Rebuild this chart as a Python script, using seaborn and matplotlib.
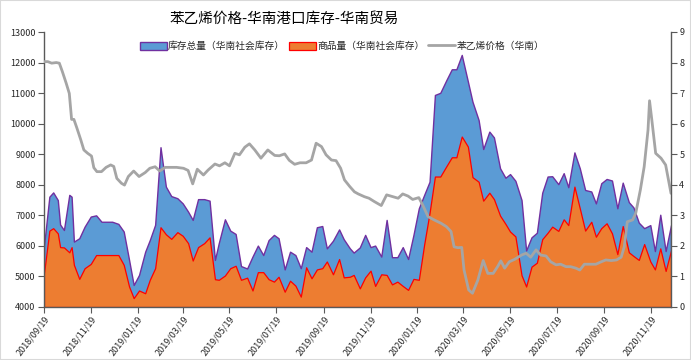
"""Styrene price vs South China port stock (total / goods)."""

import matplotlib

matplotlib.use("Agg")
import matplotlib.pyplot as plt  # noqa: E402
from matplotlib.patches import Rectangle  # noqa: E402
import pandas as pd  # noqa: E402
import seaborn as sns  # noqa: E402

START = "2018-09-19"

# stock series: days after START, total stock, goods stock (tonnes)
stock_day = [0, 7, 12, 18, 21, 26, 33, 36, 39, 46, 53, 61, 68, 75, 82, 89, 97, 104, 111, 117,
             124, 132, 138, 145, 152, 159, 166, 174, 181, 188, 194, 201, 209, 216, 223, 228, 236, 243, 250, 257,
             265, 272, 279, 286, 293, 300, 306, 314, 321, 328, 335, 342, 349, 356, 363, 369, 377, 385, 391, 399,
             404, 412, 419, 426, 432, 440, 447, 454, 461, 468, 475, 482, 489, 496, 503, 510, 517, 525, 532, 538,
             545, 553, 559, 567, 573, 581, 587, 595, 602, 608, 615, 623, 629, 636, 643, 650, 657, 663, 671, 678,
             684, 692, 699, 706, 714, 720, 727, 734, 741, 748, 755, 763, 769, 776, 783, 791, 797, 804, 811, 818]
total_stock = [6000, 7610, 7750, 7500, 6700, 6520, 7670, 7610, 6140, 6250, 6630, 6960, 7000, 6790, 6790, 6790, 6720, 6470, 5540, 4720,
               5050, 5810, 6190, 6690, 9230, 7940, 7630, 7560, 7390, 7120, 6850, 7530, 7530, 7480, 5540, 6090, 6870, 6500, 6390, 5340,
               5260, 5650, 6010, 5700, 6190, 6360, 6250, 5230, 5810, 5700, 5270, 5960, 5810, 6610, 6650, 5920, 6170, 6540, 6220, 5920,
               5780, 5950, 6360, 5960, 6010, 5650, 6850, 5630, 5630, 5960, 5570, 6360, 7230, 7670, 8100, 10940, 11010, 11430, 11780, 11780,
               12250, 11380, 10720, 10120, 9170, 9740, 9550, 8540, 8230, 8350, 8130, 7500, 5850, 6280, 6430, 7740, 8270, 8280, 8020, 8380,
               7920, 9060, 8540, 7830, 7780, 7390, 8050, 8190, 8140, 7230, 8070, 7430, 7260, 6760, 6580, 6680, 5830, 7020, 5830, 6680]
goods_stock = [5100, 6500, 6580, 6410, 5960, 5950, 5790, 5960, 5380, 4920, 5270, 5410, 5700, 5700, 5700, 5700, 5700, 5380, 4670, 4290,
               4540, 4450, 4890, 5270, 6610, 6380, 6230, 6450, 6330, 6090, 5520, 5960, 6090, 6280, 4910, 4890, 5030, 5270, 5350, 4890,
               4960, 4540, 5140, 5140, 4910, 4830, 4990, 4500, 4860, 4700, 4340, 5300, 4940, 5230, 5270, 5490, 5070, 5570, 4970, 4990,
               5050, 4610, 4970, 5190, 4690, 5070, 5050, 4740, 4830, 4690, 4560, 4920, 4890, 6050, 7080, 8270, 8270, 8610, 8900, 8900,
               9580, 9250, 8250, 8100, 7480, 7740, 7530, 6990, 6720, 6470, 6310, 5040, 4670, 5320, 5450, 6220, 6430, 6630, 6490, 6870,
               6680, 7940, 7230, 6500, 6790, 6300, 6580, 6740, 6410, 5730, 6650, 5790, 5670, 5540, 6060, 5490, 5230, 5920, 5180, 5850]

# styrene price (South China), right axis
price_day = [0, 5, 10, 16, 20, 24, 29, 33, 36, 39, 43, 48, 52, 57, 62, 65, 69, 75, 81, 87,
             91, 95, 101, 105, 110, 117, 124, 132, 138, 145, 151, 158, 166, 173, 182, 188, 194, 200, 208, 214,
             223, 229, 236, 242, 249, 255, 262, 268, 275, 283, 292, 301, 307, 314, 320, 327, 334, 342, 349, 355,
             362, 368, 375, 381, 387, 392, 399, 405, 410, 418, 424, 431, 440, 447, 455, 462, 468, 475, 481, 489,
             494, 501, 509, 518, 525, 531, 535, 540, 545, 548, 554, 559, 566, 573, 579, 586, 592, 596, 601, 607,
             614, 623, 629, 635, 642, 648, 655, 661, 668, 674, 681, 687, 694, 699, 705, 714, 720, 727, 733, 740,
             747, 753, 757, 761, 768, 772, 778, 783, 788, 790, 793, 798, 805, 811, 818]
price = [8.03, 8.03, 7.98, 8.00, 7.98, 7.70, 7.32, 6.99, 6.14, 6.14, 5.85, 5.47, 5.14, 5.03, 4.94, 4.56, 4.43, 4.43, 4.57, 4.65,
         4.60, 4.21, 4.05, 3.99, 4.27, 4.45, 4.27, 4.40, 4.54, 4.59, 4.45, 4.57, 4.57, 4.57, 4.54, 4.47, 4.03, 4.51, 4.32, 4.48,
         4.68, 4.62, 4.72, 4.62, 5.03, 4.98, 5.23, 5.34, 5.14, 4.87, 5.14, 4.96, 4.95, 5.01, 4.80, 4.67, 4.72, 4.72, 4.81, 5.36,
         5.25, 4.98, 4.81, 4.79, 4.54, 4.16, 3.94, 3.77, 3.70, 3.61, 3.56, 3.45, 3.32, 3.67, 3.61, 3.56, 3.70, 3.63, 3.52, 3.58,
         3.34, 2.96, 2.85, 2.74, 2.63, 2.47, 1.97, 1.94, 1.95, 1.21, 0.56, 0.45, 0.88, 1.52, 1.10, 1.10, 1.33, 1.51, 1.27, 1.48,
         1.56, 1.70, 1.76, 1.63, 1.87, 1.70, 1.67, 1.48, 1.38, 1.40, 1.32, 1.32, 1.27, 1.21, 1.40, 1.40, 1.40, 1.48, 1.54, 1.52,
         1.54, 1.63, 1.97, 2.79, 2.85, 3.07, 3.83, 4.59, 5.79, 6.75, 6.12, 5.03, 4.87, 4.65, 3.72]

tick_dates = ["2018-09-19", "2018-11-19", "2019-01-19", "2019-03-19", "2019-05-19", "2019-07-19", "2019-09-19",
              "2019-11-19", "2020-01-19", "2020-03-19", "2020-05-19", "2020-07-19", "2020-09-19", "2020-11-19"]

TITLE = "苯乙烯价格-华南港口库存-华南贸易"
LABEL_TOTAL = "库存总量（华南社会库存）"
LABEL_GOODS = "商品量（华南社会库存）"
LABEL_PRICE = "苯乙烯价格（华南）"

BLUE, PURPLE = "#5B9BD5", "#7030A0"
ORANGE, RED = "#ED7D31", "#FF0000"
GRAY = "#A5A5A5"
AXIS = "#595959"

sns.set_theme(style="ticks")
plt.rcParams["font.family"] = ["Noto Sans CJK SC", "DejaVu Sans"]

start = pd.Timestamp(START)
stock = pd.DataFrame({
    "date": start + pd.to_timedelta(stock_day, unit="D"),
    "total": total_stock,
    "goods": goods_stock,
})
px = pd.DataFrame({"date": start + pd.to_timedelta(price_day, unit="D"), "price": price})

fig = plt.figure(figsize=(6.91, 3.60), dpi=100)
ax = fig.add_axes([44 / 691, 1 - 307 / 360, 627 / 691, 275 / 360])

ax.fill_between(stock["date"], 4000, stock["total"], facecolor=BLUE, edgecolor=PURPLE,
                linewidth=1.0, label=LABEL_TOTAL)
ax.fill_between(stock["date"], 4000, stock["goods"], facecolor=ORANGE, edgecolor=RED,
                linewidth=0.9, label=LABEL_GOODS)

ax2 = ax.twinx()
sns.lineplot(data=px, x="date", y="price", ax=ax2, color=GRAY, linewidth=2.0, label=LABEL_PRICE)
ax2.get_legend().remove()

ax.set_xlim(start, stock["date"].iloc[-1])
ax.set_ylim(4000, 13000)
ax.set_yticks(range(4000, 13001, 1000))
ax2.set_ylim(0, 9)
ax2.set_yticks(range(0, 10))

ticks = pd.to_datetime(tick_dates)
ax.set_xticks(ticks)
ax.set_xticklabels([t.strftime("%Y/%m/%d") for t in ticks], rotation=52, ha="right",
                   rotation_mode="anchor", fontsize=6.5)
ax.set_xlabel("")
ax2.set_xlabel("")
ax2.set_ylabel("")

for a in (ax, ax2):
    a.spines["top"].set_visible(False)
    for side in ("left", "right", "bottom"):
        a.spines[side].set_color(AXIS)
        a.spines[side].set_linewidth(1.0)
    a.tick_params(axis="y", colors=AXIS, labelcolor="#262626", length=4, width=0.8, labelsize=6.5, pad=2)
ax.tick_params(axis="x", colors=AXIS, labelcolor="#262626", length=4, width=0.8, pad=1.5)
ax.spines["right"].set_visible(False)
ax2.spines["left"].set_visible(False)
ax2.spines["bottom"].set_visible(False)

handles = ax.get_legend_handles_labels()[0] + ax2.get_legend_handles_labels()[0]
labels = [LABEL_TOTAL, LABEL_GOODS, LABEL_PRICE]
fig.legend(handles, labels, loc="center", bbox_to_anchor=(342 / 691, 1 - 46 / 360), ncol=3,
           frameon=False, fontsize=7, handlelength=2.8, handleheight=0.9, handletextpad=0.1,
           columnspacing=0.4, borderpad=0)

fig.text(284 / 691, 1 - 19 / 360, TITLE, ha="center", va="center", fontsize=10.5, color="#000000")
fig.add_artist(Rectangle((0, 0), 1, 1, transform=fig.transFigure, fill=False,
                         edgecolor="#D9D9D9", linewidth=1.5))

fig.savefig("out.png", dpi=100)
